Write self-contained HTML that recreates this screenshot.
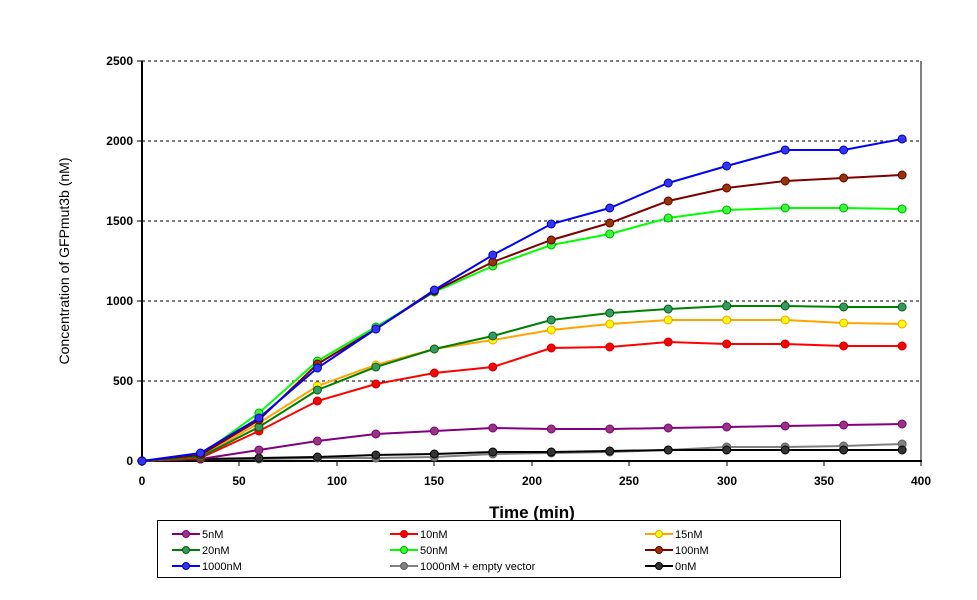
<!DOCTYPE html>
<html><head><style>
body{margin:0;background:#fff;}
svg{display:block;font-family:"Liberation Sans",Arial,sans-serif;}
</style></head><body>
<svg width="977" height="600" xmlns="http://www.w3.org/2000/svg">
<rect width="977" height="600" fill="#fff"/>
<g stroke="#000" stroke-dasharray="3,3" stroke-width="1">
<line x1="142" x2="921" y1="141" y2="141"/><line x1="142" x2="921" y1="221" y2="221"/>
<line x1="142" x2="921" y1="301" y2="301"/><line x1="142" x2="921" y1="381" y2="381"/>
</g>
<line x1="142" x2="921" y1="61" y2="61" stroke="#000" stroke-dasharray="3,3"/>
<line x1="921" x2="921" y1="61" y2="461" stroke="#000"/>
<line x1="142" x2="142" y1="61" y2="462" stroke="#000" stroke-width="2"/>
<line x1="141" x2="922" y1="461" y2="461" stroke="#000" stroke-width="2"/>
<g stroke="#000">
<line x1="137" x2="142" y1="61" y2="61"/><line x1="137" x2="142" y1="141" y2="141"/><line x1="137" x2="142" y1="221" y2="221"/><line x1="137" x2="142" y1="301" y2="301"/><line x1="137" x2="142" y1="381" y2="381"/><line x1="137" x2="142" y1="461" y2="461"/>
<line x1="142" x2="142" y1="461" y2="466"/><line x1="239" x2="239" y1="461" y2="466"/><line x1="337" x2="337" y1="461" y2="466"/><line x1="434" x2="434" y1="461" y2="466"/><line x1="532" x2="532" y1="461" y2="466"/><line x1="629" x2="629" y1="461" y2="466"/><line x1="727" x2="727" y1="461" y2="466"/><line x1="824" x2="824" y1="461" y2="466"/><line x1="921" x2="921" y1="461" y2="466"/>
</g>
<g font-size="12" font-weight="bold" text-anchor="end">
<text x="133" y="65">2500</text><text x="133" y="145">2000</text><text x="133" y="225">1500</text><text x="133" y="305">1000</text><text x="133" y="385">500</text><text x="133" y="465">0</text>
</g>
<g font-size="12" font-weight="bold" text-anchor="middle">
<text x="142" y="485">0</text><text x="239" y="485">50</text><text x="337" y="485">100</text><text x="434" y="485">150</text><text x="532" y="485">200</text><text x="629" y="485">250</text><text x="727" y="485">300</text><text x="824" y="485">350</text><text x="921" y="485">400</text>
</g>
<text x="532" y="518" font-size="17" font-weight="bold" text-anchor="middle">Time (min)</text>
<text transform="translate(69,261) rotate(-90)" font-size="14" text-anchor="middle">Concentration of GFPmut3b (nM)</text>
<g id="series"></g>
<rect x="157.5" y="520.5" width="683" height="57" fill="#fff" stroke="#000"/>
<g id="leg" font-size="11"></g>
</svg>
<script>
var xs=[];for(var i=0;i<14;i++)xs.push(142+i*30*1.949);
var S=[
["#808080","#808080","#606060",[461,459,459,458,458,457,454,453,452,450,447,447,446,444],"1000nM + empty vector"],
["#000000","#333333","#000000",[461,459,458,457,455,454,452,452,451,450,450,450,450,450],"0nM"],
["#800080","#993380","#800080",[461,459,450,441,434,431,428,429,429,428,427,426,425,424],"5nM"],
["#ff0000","#ff0000","#cc0000",[461,458,431,401,384,373,367,348,347,342,344,344,346,346],"10nM"],
["#ffa500","#ffff00","#ff9900",[461,457,423,386,365,349,340,330,324,320,320,320,323,324],"15nM"],
["#008000","#339966","#006600",[461,457,427,390,367,349,336,320,313,309,306,306,307,307],"20nM"],
["#00ff00","#33ff33","#00aa00",[461,455,413,361,327,292,266,245,234,218,210,208,208,209],"50nM"],
["#800000","#993300","#660000",[461,455,420,364,329,291,262,240,223,201,188,181,178,175],"100nM"],
["#0000ff","#3333ff","#0000aa",[461,453,418,368,329,290,255,224,208,183,166,150,150,139],"1000nM"]];
var ns="http://www.w3.org/2000/svg",g=document.getElementById("series");
function el(t,a,p){var e=document.createElementNS(ns,t);for(var k in a)e.setAttribute(k,a[k]);p.appendChild(e);return e;}
S.forEach(function(s){var pts=s[3].map(function(y,i){return xs[i]+","+y}).join(" ");
el("polyline",{points:pts,fill:"none",stroke:s[0],"stroke-width":2},g);
s[3].forEach(function(y,i){el("circle",{cx:xs[i],cy:y,r:4,fill:s[1],stroke:s[2],"stroke-width":1},g);});});
var L=document.getElementById("leg");
var order=["5nM","10nM","15nM","20nM","50nM","100nM","1000nM","1000nM + empty vector","0nM"];
var cx=[172,390,645],ry=[534,550,566];
order.forEach(function(n,i){var s=S.filter(function(q){return q[4]==n})[0];var x=cx[i%3],y=ry[Math.floor(i/3)];
el("line",{x1:x,x2:x+28,y1:y,y2:y,stroke:s[0],"stroke-width":2},L);
el("circle",{cx:x+14,cy:y,r:3.5,fill:s[1],stroke:s[2]},L);
var t=el("text",{x:x+30,y:y+4},L);t.textContent=n;});
</script>
</body></html>
